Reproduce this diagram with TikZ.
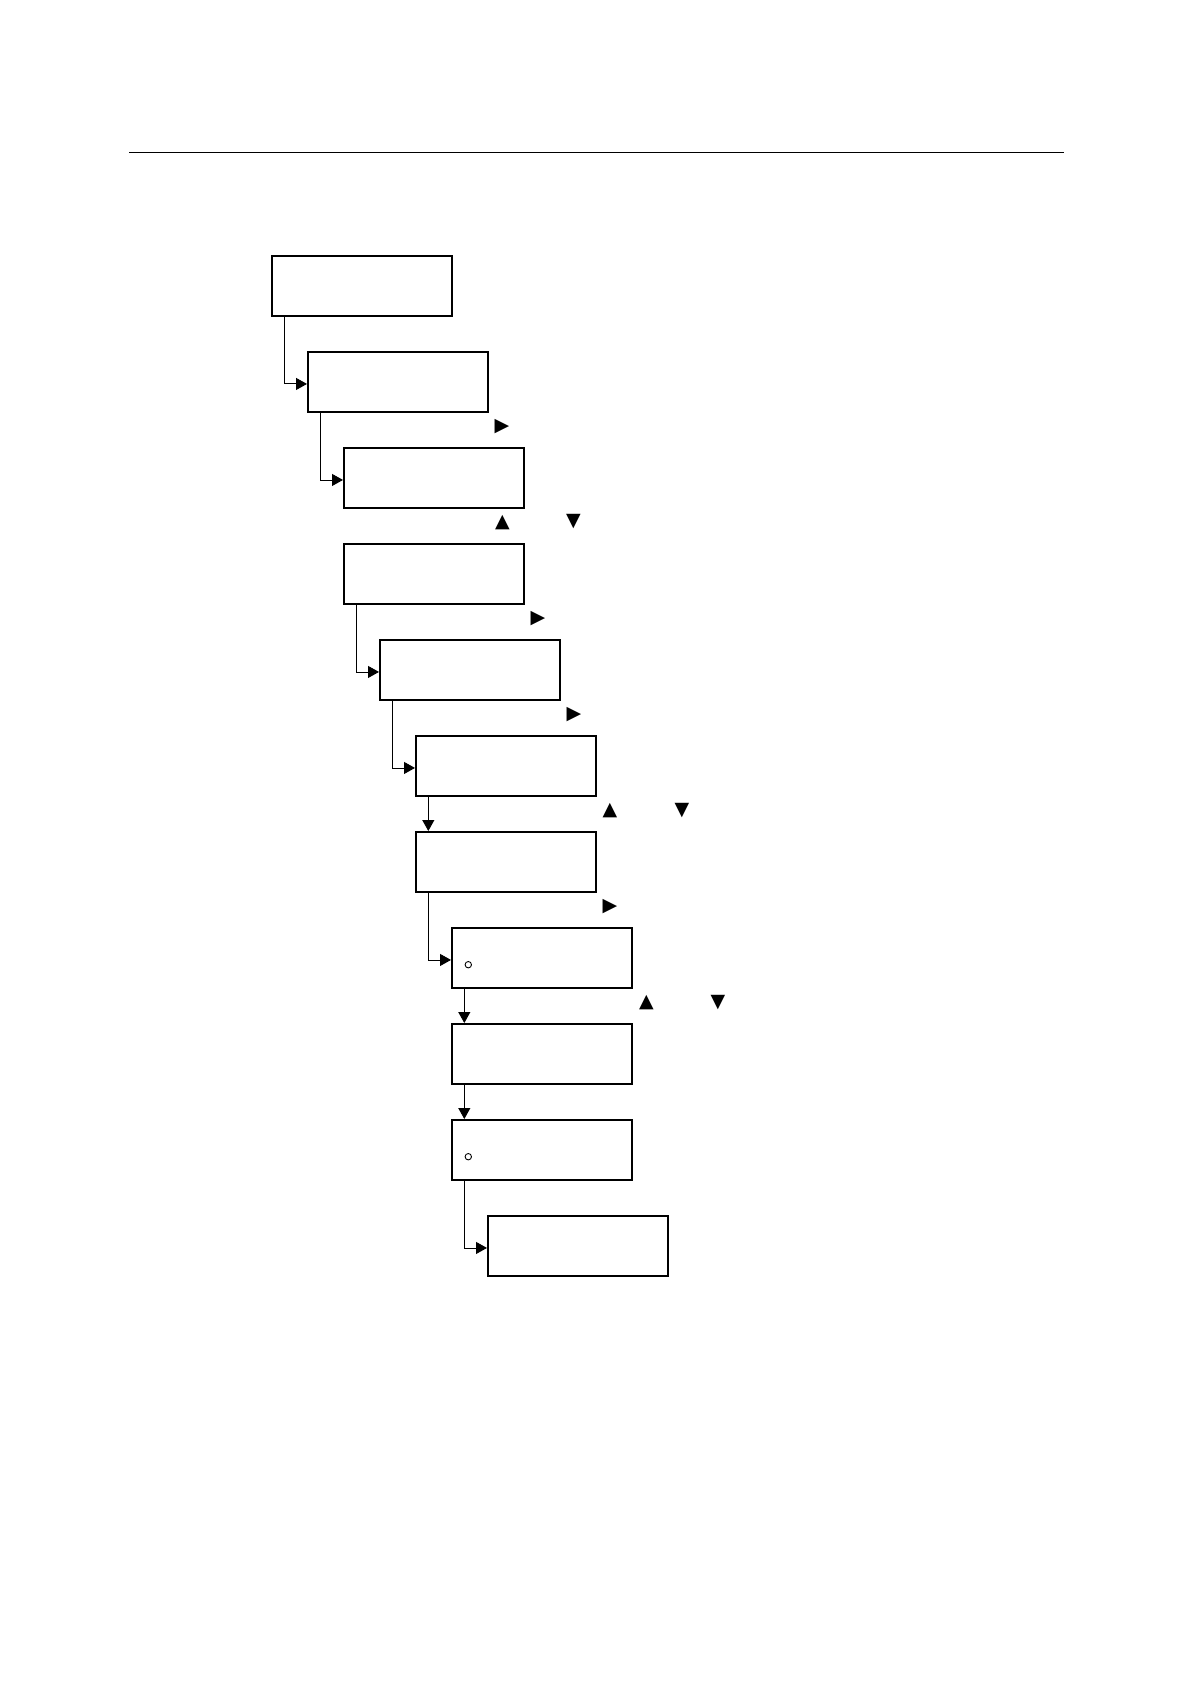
\documentclass[tikz,border=0pt]{standalone}
\usepackage{fontspec}
\newfontfamily\symfont{DejaVu Sans}
\usetikzlibrary{arrows.meta}
\begin{document}
\begin{tikzpicture}[x=0.5pt,y=-0.5pt,
  box/.style={draw,line width=0.95pt,minimum width=90pt,minimum height=30pt,inner sep=0pt,anchor=north west},
  conn/.style={line width=0.45pt,-{Triangle[length=5.5pt,width=6pt]}},
  sym/.style={font=\symfont\fontsize{9.5}{10}\selectfont,inner sep=0pt},
  dot/.style={circle,draw,line width=0.45pt,minimum size=3.2pt,inner sep=0pt}]
\path[use as bounding box] (0,0) rectangle (1190,1684);
\draw[line width=0.8pt] (129,152.5) coordinate (r1) -- (1064,152.5) coordinate (r2);

\node[box] (b1)  at (271,255)  {};
\node[box] (b2)  at (307,351)  {};
\node[box] (b3)  at (343,447)  {};
\node[box] (b4)  at (343,543)  {};
\node[box] (b5)  at (379,639)  {};
\node[box] (b6)  at (415,735)  {};
\node[box] (b7)  at (415,831)  {};
\node[box] (b8)  at (451,927)  {};
\node[box] (b9)  at (451,1023) {};
\node[box] (b10) at (451,1119) {};
\node[box] (b11) at (487,1215) {};

\draw[conn] ([xshift=6.65pt]b1.south west) |- ([yshift=-1pt]b2.west);
\draw[conn] ([xshift=6.65pt]b2.south west) |- ([yshift=-1pt]b3.west);
\draw[conn] ([xshift=6.65pt]b4.south west) |- ([yshift=-1pt]b5.west);
\draw[conn] ([xshift=6.65pt]b5.south west) |- ([yshift=-1pt]b6.west);
\draw[conn] ([xshift=6.65pt]b6.south west) -- ([xshift=6.65pt]b7.north west);
\draw[conn] ([xshift=6.65pt]b7.south west) |- ([yshift=-1pt]b8.west);
\draw[conn] ([xshift=6.65pt]b8.south west) -- ([xshift=6.65pt]b9.north west);
\draw[conn] ([xshift=6.65pt]b9.south west) -- ([xshift=6.65pt]b10.north west);
\draw[conn] ([xshift=6.65pt]b10.south west) |- ([yshift=-1pt]b11.west);

\node[sym] (t1) at (502,427) {▶};
\node[sym] (t2) at (502.5,523) {▲};
\node[sym] (t3) at (573.5,522) {▼};
\node[sym] (t4) at (538,619) {▶};
\node[sym] (t5) at (574,715) {▶};
\node[sym] (t6) at (610,811) {▲};
\node[sym] (t7) at (682,811) {▼};
\node[sym] (t8) at (610,907) {▶};
\node[sym] (t9) at (646.5,1003) {▲};
\node[sym] (t10) at (718,1003) {▼};

\node[dot] (c1) at (468.3,964.7) {};
\node[dot] (c2) at (468.3,1156.7) {};
\end{tikzpicture}
\end{document}
